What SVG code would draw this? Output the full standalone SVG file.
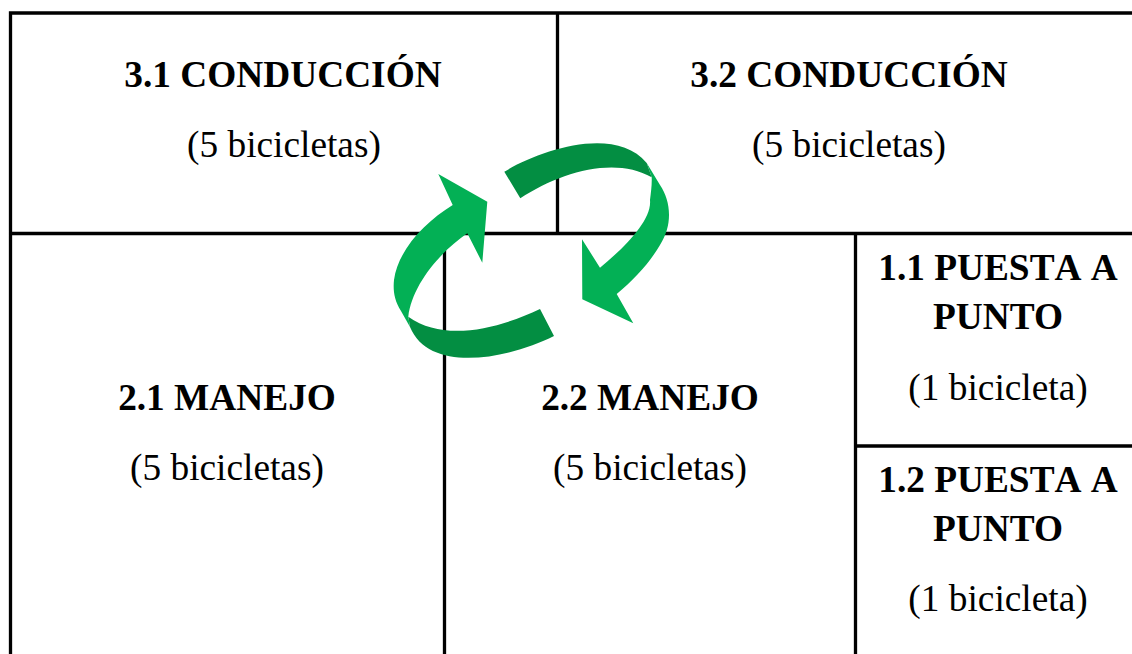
<svg xmlns="http://www.w3.org/2000/svg" width="1132" height="654" viewBox="0 0 1132 654">
<style>
.l{stroke:#000;stroke-width:3.3;fill:none}
text{font-family:"Liberation Serif","Times New Roman",serif;fill:#000;text-anchor:middle;font-size:37.33px}
.h{font-weight:bold}
.k{font-kerning:none}
.g{fill:#03b055}
.d{fill:#038e42}
</style>
<rect width="1132" height="654" fill="#fff"/>
<g id="connectors">
<path class="l" d="M10.500 654V13H1132M10.500 233.500H1132M557.500 13V233.500M444.500 233.500V654M855.500 233.500V654M855.500 446H1132"/>
</g>
<g id="n31"><text class="h" x="283" y="87">3.1 CONDUCCIÓN</text><text x="284" y="157">(5 bicicletas)</text></g>
<g id="n32"><text class="h" x="849" y="87">3.2 CONDUCCIÓN</text><text x="849" y="157">(5 bicicletas)</text></g>
<g id="n21"><text class="h" x="227" y="410">2.1 MANEJO</text><text x="227" y="480">(5 bicicletas)</text></g>
<g id="n22"><text class="h" x="650" y="410">2.2 MANEJO</text><text x="650" y="480">(5 bicicletas)</text></g>
<g id="n11"><text class="h k" x="998" y="280">1.1 PUESTA A</text><text class="h" x="998" y="329">PUNTO</text><text x="998" y="400">(1 bicicleta)</text></g>
<g id="n12"><text class="h k" x="998" y="492">1.2 PUESTA A</text><text class="h" x="998" y="541">PUNTO</text><text x="998" y="611">(1 bicicleta)</text></g>
<g id="cycle">
<path class="g" d="M646.700 163L660 185C671 201 673 225 660 245C650 262 635 279 616.700 294L633.300 323.300L582.300 299.300L582 239.300L600 267.700C625 247 652 220 650 200C651 192 652 185 651.700 177.300Z"/>
<path class="d" d="M504.300 171.700C540 150 615 125 646.700 163L651.700 177.300C615 156 560 172 520.300 198.300Z"/>
<path class="g" d="M438.300 174L487.300 201.700L482.300 262.700L467.300 233.300C440 252 412 285 408.300 316.700L410 327L401 311C394 300 393 290 394 280C398 250 425 222 452.700 205Z"/>
<path class="d" d="M408.300 316.700C445 343 500 328 540 309L554 336C510 358 430 375 410 327Z"/>
</g>
</svg>
